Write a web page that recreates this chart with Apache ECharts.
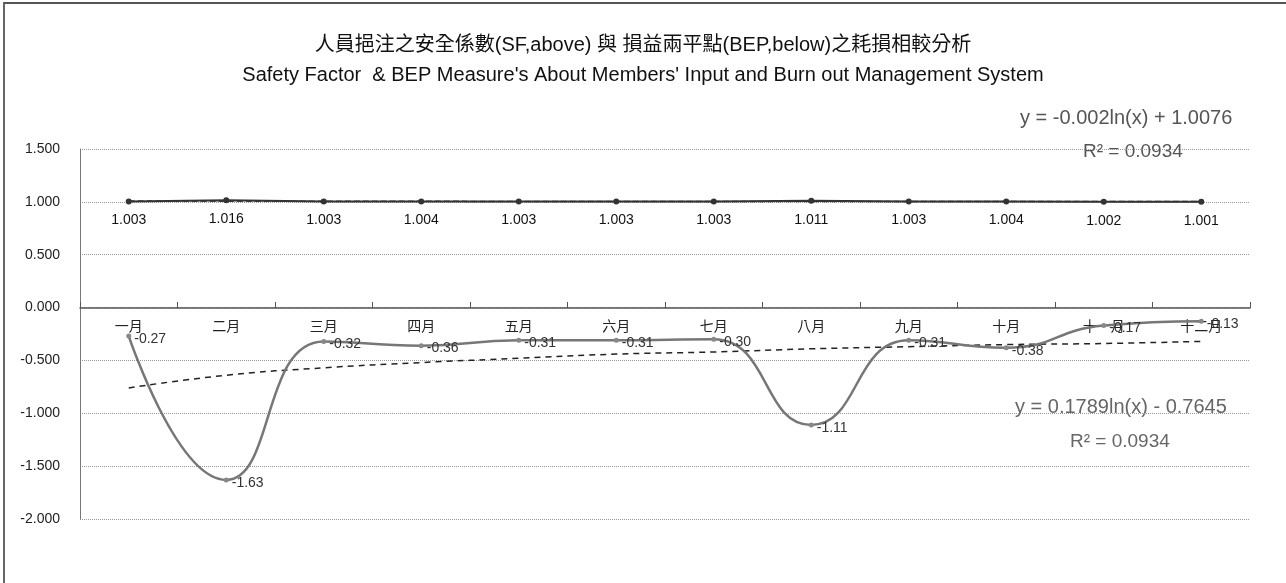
<!DOCTYPE html>
<html>
<head>
<meta charset="utf-8">
<script src="https://cdn.jsdelivr.net/npm/echarts@6/dist/echarts.min.js"></script>
<style>
  html, body { margin: 0; padding: 0; background: #fff; }
  #frame { position: absolute; left: 3px; top: 2px; width: 1283px; height: 581px; border-top: 2px solid #555; border-left: 2px solid #666; box-sizing: border-box; }
  #chart { position: absolute; left: 0; top: 0; width: 1286px; height: 583px; }
</style>
</head>
<body>
<div id="frame"></div>
<div id="chart"></div>
<script>
const months = ['一月', '二月', '三月', '四月', '五月', '六月', '七月', '八月', '九月', '十月', '十一月', '十二月']
const sfValues = [1.003, 1.016, 1.003, 1.004, 1.003, 1.003, 1.003, 1.011, 1.003, 1.004, 1.002, 1.001]
const bepValues = [-0.27, -1.63, -0.32, -0.36, -0.31, -0.31, -0.30, -1.11, -0.31, -0.38, -0.17, -0.13]
// trendlines
const sfTrend = [1.008, 1.006, 1.005, 1.005, 1.004, 1.004, 1.004, 1.003, 1.003, 1.003, 1.003, 1.003]
const bepTrend = [-0.76, -0.64, -0.57, -0.52, -0.48, -0.44, -0.42, -0.39, -0.37, -0.35, -0.34, -0.32]

const FONT = "'Liberation Sans', 'Noto Sans CJK TC', sans-serif"

const chart = echarts.init(document.getElementById('chart'))
chart.setOption({
  backgroundColor: 'transparent',
  animation: false,
  textStyle: { fontFamily: FONT },
  title: [
    { text: '人員挹注之安全係數(SF,above) 與 損益兩平點(BEP,below)之耗損相較分析', left: 'center', top: 30,
      textStyle: { fontSize: 20, fontWeight: 'normal', color: '#111', fontFamily: FONT } },
    { text: "Safety Factor  & BEP Measure's About Members' Input and Burn out Management System", left: 'center', top: 60,
      textStyle: { fontSize: 20, fontWeight: 'normal', color: '#111', fontFamily: FONT } }
  ],
  graphic: [
    { type: 'text', left: 1020, top: 108, style: { text: 'y = -0.002ln(x) + 1.0076', fontSize: 20, fill: '#555', fontFamily: FONT } },
    { type: 'text', left: 1083, top: 142, style: { text: 'R² = 0.0934', fontSize: 19, fill: '#555', fontFamily: FONT } },
    { type: 'text', left: 1015, top: 397, style: { text: 'y = 0.1789ln(x) - 0.7645', fontSize: 20, fill: '#666', fontFamily: FONT } },
    { type: 'text', left: 1070, top: 432, style: { text: 'R² = 0.0934', fontSize: 19, fill: '#666', fontFamily: FONT } }
  ],
  grid: { left: 80, right: 36, top: 149, bottom: 64 },
  xAxis: {
    type: 'category',
    data: months,
    offset: -211,
    axisLine: { onZero: false, lineStyle: { color: '#555', width: 1.5 } },
    axisTick: { show: true, inside: true, length: 6, lineStyle: { color: '#555', width: 1 } },
    axisLabel: { color: '#222', fontSize: 14, margin: 12 }
  },
  yAxis: {
    type: 'value',
    min: -2, max: 1.5, interval: 0.5,
    axisLine: { show: true, lineStyle: { color: '#777' } },
    axisTick: { show: false },
    axisLabel: { color: '#222', fontSize: 14, margin: 20, formatter: v => v.toFixed(3) },
    splitLine: { lineStyle: { color: '#999', type: 'dotted' } }
  },
  series: [
    {
      name: 'SF', type: 'line', data: sfValues,
      symbol: 'circle', symbolSize: 6,
      lineStyle: { color: '#333', width: 2 },
      itemStyle: { color: '#333' },
      label: { show: true, position: 'bottom', distance: 9, color: '#111', fontSize: 14, formatter: p => p.value.toFixed(3) },
      z: 3
    },
    {
      name: 'SF trend', type: 'line', data: sfTrend, smooth: true,
      symbol: 'none', lineStyle: { color: '#444', width: 1.5, type: 'dashed' }, z: 2
    },
    {
      name: 'BEP', type: 'line', data: bepValues, smooth: 0.5,
      symbol: 'circle', symbolSize: 5,
      lineStyle: { color: '#777', width: 2.5 },
      itemStyle: { color: '#888' },
      label: { show: true, position: 'right', distance: 3, offset: [0, 3], color: '#333', fontSize: 14, formatter: p => p.value.toFixed(2) },
      z: 3
    },
    {
      name: 'BEP trend', type: 'line', data: bepTrend, smooth: true,
      symbol: 'none', lineStyle: { color: '#222', width: 1.5, type: [6, 5] }, z: 2
    }
  ]
})
</script>
</body>
</html>
